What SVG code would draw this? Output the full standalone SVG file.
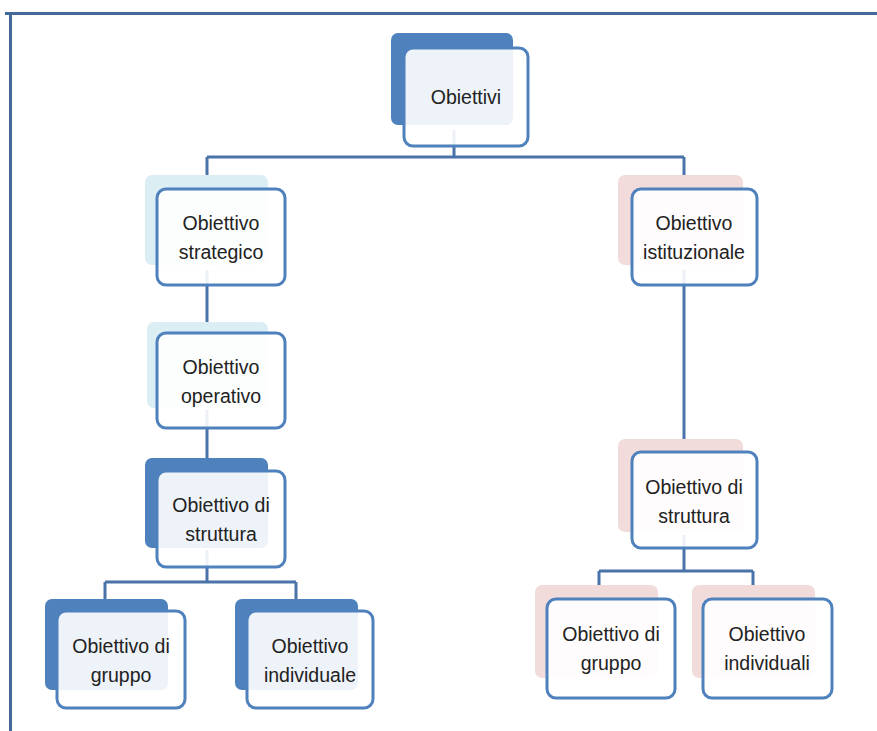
<svg xmlns="http://www.w3.org/2000/svg" width="877" height="731" viewBox="0 0 877 731">
<style>
.frame{stroke:#46699b;stroke-width:3;fill:none}
.conn{stroke:#4a73aa;stroke-width:3;fill:none}
.bk-dark{fill:#4f81bd}
.bk-blue{fill:#daeef3}
.bk-pink{fill:#f2dcdb}
.front{fill:#ffffff;fill-opacity:0.9;stroke:#4f81bd;stroke-width:3}
text{font-family:"Liberation Sans",Arial,sans-serif;font-size:19.5px;fill:#222;text-anchor:middle}
</style>
<rect width="877" height="731" fill="#ffffff"/>
<path class="frame" d="M5,13.5 H877 M10.5,12 V731"/>
<g id="connectors">
<path class="conn" d="M454,130 V157 M207,157 H684 M207,157 V200 M684,157 V200"/>
<path class="conn" d="M207,270 V340 M207,410 V480"/>
<path class="conn" d="M684,270 V460"/>
<path class="conn" d="M207,550 V582 M105,582 H296 M105,582 V610 M296,582 V610"/>
<path class="conn" d="M684,535 V571 M599,571 H753 M599,571 V595 M753,571 V595"/>
</g>
<g id="n-obiettivi">
<rect class="bk-dark" x="391" y="33" width="122" height="92" rx="7"/>
<rect class="front" x="404" y="48" width="124" height="98" rx="9"/>
<text x="466" y="104">Obiettivi</text>
</g>
<g id="n-strategico">
<rect class="bk-blue" x="145" y="175" width="123" height="90" rx="7"/>
<rect class="front" x="157" y="189" width="128" height="96" rx="9"/>
<text x="221" y="230">Obiettivo</text>
<text x="221" y="259">strategico</text>
</g>
<g id="n-istituzionale">
<rect class="bk-pink" x="618" y="175" width="125" height="90" rx="7"/>
<rect class="front" x="632" y="189" width="125" height="96" rx="9"/>
<text x="694" y="230">Obiettivo</text>
<text x="694" y="259">istituzionale</text>
</g>
<g id="n-operativo">
<rect class="bk-blue" x="147" y="322" width="121" height="86" rx="7"/>
<rect class="front" x="157" y="333" width="128" height="95" rx="9"/>
<text x="221" y="374">Obiettivo</text>
<text x="221" y="403">operativo</text>
</g>
<g id="n-struttura-l">
<rect class="bk-dark" x="145" y="458" width="123" height="90" rx="7"/>
<rect class="front" x="157" y="471" width="128" height="96" rx="9"/>
<text x="221" y="512">Obiettivo di</text>
<text x="221" y="541">struttura</text>
</g>
<g id="n-struttura-r">
<rect class="bk-pink" x="618" y="439" width="125" height="93" rx="7"/>
<rect class="front" x="632" y="452" width="125" height="96" rx="9"/>
<text x="694" y="494">Obiettivo di</text>
<text x="694" y="523">struttura</text>
</g>
<g id="n-gruppo-l">
<rect class="bk-dark" x="45" y="599" width="123" height="91" rx="7"/>
<rect class="front" x="57" y="611" width="128" height="97" rx="9"/>
<text x="121" y="653">Obiettivo di</text>
<text x="121" y="682">gruppo</text>
</g>
<g id="n-individuale-l">
<rect class="bk-dark" x="235" y="599" width="123" height="91" rx="7"/>
<rect class="front" x="247" y="611" width="126" height="97" rx="9"/>
<text x="310" y="653">Obiettivo</text>
<text x="310" y="682">individuale</text>
</g>
<g id="n-gruppo-r">
<rect class="bk-pink" x="535" y="585" width="123" height="93" rx="7"/>
<rect class="front" x="547" y="599" width="128" height="99" rx="9"/>
<text x="611" y="641">Obiettivo di</text>
<text x="611" y="670">gruppo</text>
</g>
<g id="n-individuali-r">
<rect class="bk-pink" x="692" y="585" width="123" height="93" rx="7"/>
<rect class="front" x="703" y="599" width="129" height="99" rx="9"/>
<text x="767" y="641">Obiettivo</text>
<text x="767" y="670">individuali</text>
</g>
</svg>
